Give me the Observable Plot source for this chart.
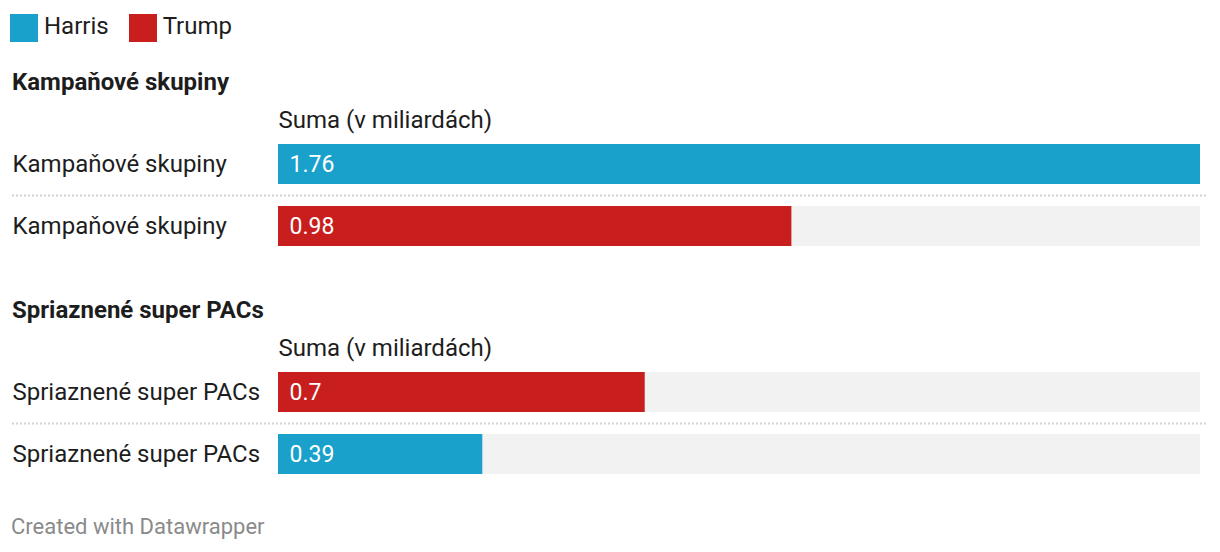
<!DOCTYPE html>
<html>
<head>
<meta charset="utf-8">
<script src="https://cdn.jsdelivr.net/npm/d3@7"></script>
<script src="https://cdn.jsdelivr.net/npm/@observablehq/plot@0.6"></script>
<style>
  html, body { margin: 0; padding: 0; background: #fff; }
  body { font-family: Roboto, "Noto Sans", sans-serif; color: #1d1d1d; width: 1220px; }
  .legend { display: flex; align-items: center; margin-top: 14px; height: 28px; padding-left: 10px; font-size: 24px; }
  .legend .item { display: flex; align-items: center; margin-right: 20px; }
  .legend .sw { width: 28px; height: 28px; margin-right: 6px; }
  .legend .lt { position: relative; top: -2px; }
  .heading { margin-top: 24px; margin-bottom: 2px; height: 32px; line-height: 32px; padding-left: 12px; font-weight: 700; font-size: 24px; }
  .heading.second { margin-top: 37px; }
  svg { display: block; }
  .footer { margin-top: 30px; height: 24px; line-height: 24px; padding-left: 11px; font-size: 22px; color: #8a8a8a; }
</style>
</head>
<body>
<div id="chart"></div>
<script>
// ---- data ----
const legendNames = ["Harris", "Trump"];
const legendColors = ["#19a1cc", "#c81e1e"];
const groupNames = ["Kampaňové skupiny", "Spriaznené super PACs"];
const columnLabel = "Suma (v miliardách)";
const rowGroup = ["Kampaňové skupiny", "Kampaňové skupiny", "Spriaznené super PACs", "Spriaznené super PACs"];
const rowLabel = ["Kampaňové skupiny", "Kampaňové skupiny", "Spriaznené super PACs", "Spriaznené super PACs"];
const rowCandidate = ["Harris", "Trump", "Trump", "Harris"];
const rowValue = [1.76, 0.98, 0.7, 0.39];
const footerText = "Created with Datawrapper";

const rows = rowValue.map((v, i) => ({
  id: "r" + i,
  group: rowGroup[i],
  label: rowLabel[i],
  candidate: rowCandidate[i],
  value: v
}));
const maxValue = d3.max(rowValue);
const colorOf = new Map(legendNames.map((n, i) => [n, legendColors[i]]));

const root = document.getElementById("chart");

// legend
const legend = document.createElement("div");
legend.className = "legend";
legendNames.forEach((n, i) => {
  const item = document.createElement("div");
  item.className = "item";
  const sw = document.createElement("span");
  sw.className = "sw";
  sw.style.background = legendColors[i];
  const t = document.createElement("span");
  t.className = "lt";
  t.textContent = n;
  item.append(sw, t);
  legend.append(item);
});
root.append(legend);

groupNames.forEach((g, gi) => {
  const h = document.createElement("div");
  h.className = "heading" + (gi > 0 ? " second" : "");
  h.textContent = g;
  root.append(h);

  const data = rows.filter(r => r.group === g);
  const ids = data.map(d => d.id);
  const plot = Plot.plot({
    width: 1220,
    height: 157,
    marginTop: 33,
    marginBottom: 0,
    marginLeft: 12,
    marginRight: 12,
    style: { fontFamily: "Roboto, sans-serif", fontSize: "24px", color: "#1d1d1d", background: "transparent" },
    x: { domain: [0, maxValue], range: [278, 1200], axis: null },
    y: { domain: ids, axis: null, paddingInner: 22 / 62, paddingOuter: 11 / 62, align: 0.5 },
    marks: [
      Plot.ruleY(ids.slice(0, -1), { y: d => d, dy: 31, stroke: "#d2d2d2", strokeWidth: 2, strokeDasharray: "2,2" }),
      Plot.barX(data, { y: "id", x1: 0, x2: maxValue, fill: "#f2f2f2" }),
      Plot.barX(data, { y: "id", x1: 0, x2: "value", fill: d => colorOf.get(d.candidate) }),
      Plot.text(data, { y: "id", x: 0, text: d => String(d.value), dx: 11, textAnchor: "start", fill: "white", fontSize: 23 }),
      Plot.text(data, { y: "id", frameAnchor: "left", text: "label", textAnchor: "start", fill: "#1d1d1d", fontSize: 24 }),
      Plot.text([columnLabel], { x: 0, frameAnchor: "top", text: d => d, textAnchor: "start", lineAnchor: "middle", dy: -13, fill: "#1d1d1d", fontSize: 24 })
    ]
  });
  root.append(plot);
});

const footer = document.createElement("div");
footer.className = "footer";
footer.textContent = footerText;
root.append(footer);
</script>
</body>
</html>
